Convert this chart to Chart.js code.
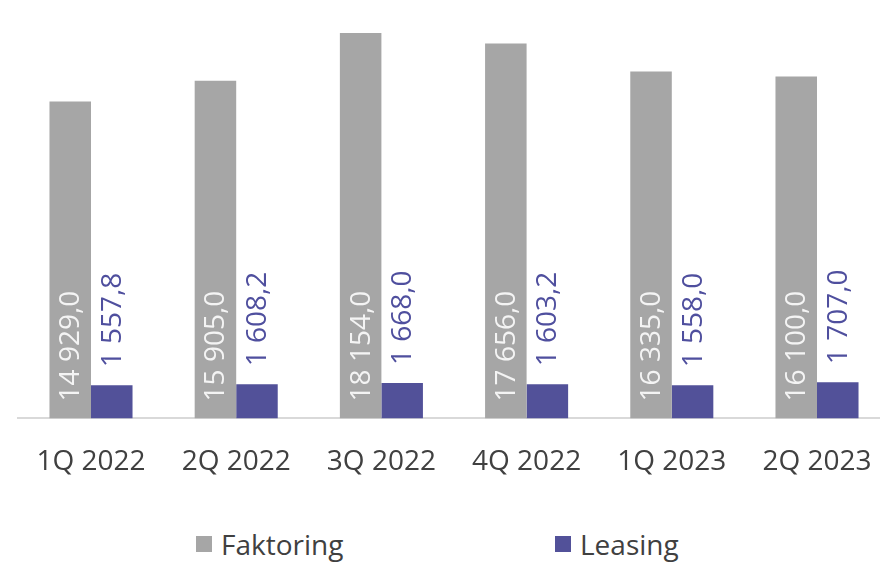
<!DOCTYPE html>
<html>
<head>
<meta charset="utf-8">
<script src="https://cdn.jsdelivr.net/npm/chart.js@4.4.0/dist/chart.umd.min.js"></script>
<style>
    html, body { margin: 0; padding: 0; background: #fff; overflow: hidden; }
    #wrap { position: relative; width: 880px; height: 565px; overflow: hidden; }
    #barChart { position: absolute; left: 0; top: 0; }
    #legend { position: absolute; left: 0; top: 526px; width: 880px; height: 36px;
              font-family: 'Open Sans', sans-serif; font-size: 28px; color: #404040; }
    .legend-item { position: absolute; top: 0; display: flex; align-items: center; height: 36px; }
    .legend-box { width: 16px; height: 16px; margin-right: 9px; }
</style>
</head>
<body>
<div id="wrap">
    <canvas id="barChart" width="892" height="506"></canvas>
    <div id="legend"></div>
</div>
<script>
// Chart data
const quarters = ['1Q 2022', '2Q 2022', '3Q 2022', '4Q 2022', '1Q 2023', '2Q 2023'];
const faktoring = [14929.0, 15905.0, 18154.0, 17656.0, 16335.0, 16100.0];
const leasing = [1557.8, 1608.2, 1668.0, 1603.2, 1558.0, 1707.0];
const seriesNames = ['Faktoring', 'Leasing'];

const GRAY = '#a6a6a6';
const BLUE = '#525199';
const FONT = "'Open Sans', sans-serif";

// Format like "14 929,0"
function formatValue(v) {
    const parts = v.toFixed(1).split('.');
    const intPart = parts[0].replace(/\B(?=(\d{3})+(?!\d))/g, ' ');
    return intPart + ',' + parts[1];
}

// Rotated value labels drawn at each bar
const valueLabels = {
    id: 'valueLabels',
    afterDatasetsDraw(chart) {
        const ctx = chart.ctx;
        ctx.save();
        ctx.font = '28px ' + FONT;
        ctx.textBaseline = 'middle';
        ctx.textAlign = 'left';
        chart.data.datasets.forEach((ds, di) => {
            const meta = chart.getDatasetMeta(di);
            meta.data.forEach((bar, i) => {
                const text = formatValue(ds.data[i]);
                let startY;
                if (di === 0) {
                    ctx.fillStyle = '#f4f4f4';
                    startY = bar.base - 17;
                } else {
                    ctx.fillStyle = '#4f4f9e';
                    startY = bar.y - 18;
                }
                ctx.save();
                ctx.translate(bar.x + 1, startY);
                ctx.rotate(-Math.PI / 2);
                ctx.fillText(text, 0, 0);
                ctx.restore();
            });
        });
        ctx.restore();
    }
};

const barChart = new Chart(document.getElementById('barChart'), {
    type: 'bar',
    data: {
        labels: quarters,
        datasets: [
            { label: seriesNames[0], data: faktoring, backgroundColor: GRAY },
            { label: seriesNames[1], data: leasing, backgroundColor: BLUE }
        ]
    },
    options: {
        responsive: false,
        animation: false,
        layout: { padding: { left: 18.4, right: 2.4, top: 15, bottom: 0 } },
        datasets: {
            bar: { categoryPercentage: 0.572, barPercentage: 1 }
        },
        scales: {
            x: {
                grid: { display: false, drawTicks: false },
                border: { display: true, color: '#d9d9d9', width: 2 },
                ticks: { color: '#404040', font: { family: FONT, size: 28 }, padding: 27, maxRotation: 0 },
                // labels fit inside their category, no extra side padding needed
                afterFit(scale) {
                    scale.paddingLeft = 0;
                    scale.paddingRight = 0;
                }
            },
            y: { display: false, min: 0, max: 19000 }
        },
        plugins: {
            legend: { display: false },
            tooltip: { enabled: false }
        }
    },
    plugins: [valueLabels]
});

// HTML legend
const legendEl = document.getElementById('legend');
const legendX = [196, 555];
barChart.data.datasets.forEach((ds, i) => {
    const item = document.createElement('div');
    item.className = 'legend-item';
    item.style.left = legendX[i] + 'px';
    item.innerHTML = `<span class="legend-box" style="background:${ds.backgroundColor}"></span><span>${ds.label}</span>`;
    legendEl.appendChild(item);
});
</script>
</body>
</html>
